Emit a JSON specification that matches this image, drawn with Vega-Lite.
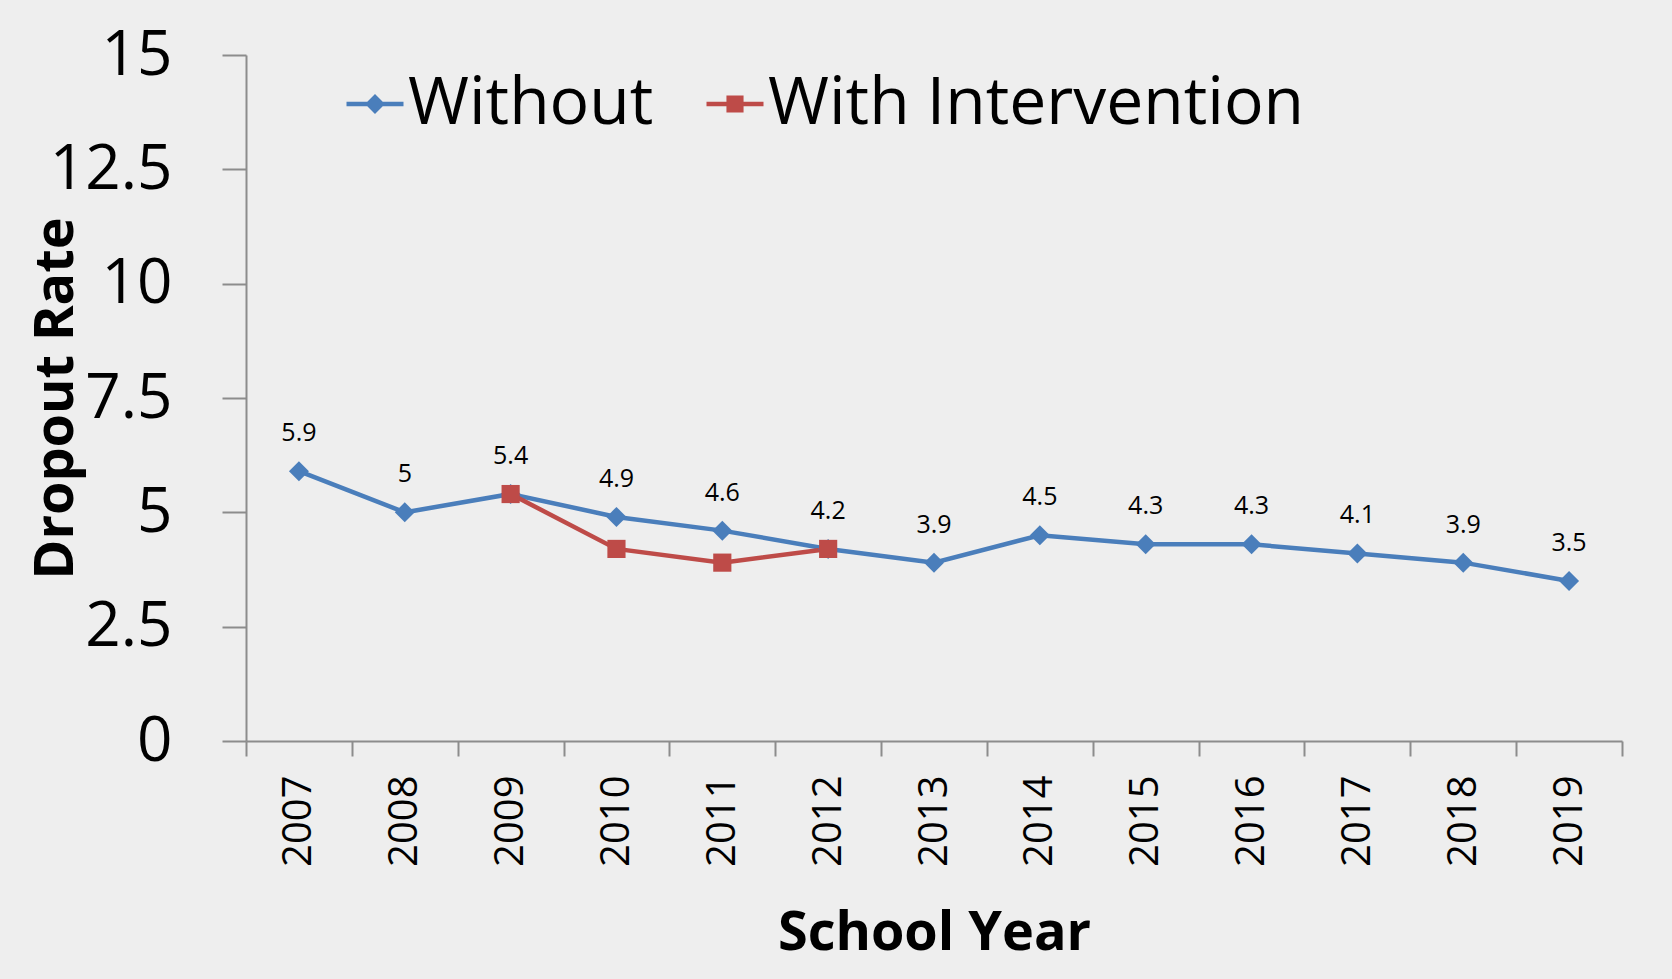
{
  "$schema": "https://vega.github.io/schema/vega-lite/v6.json",
  "autosize": {"type": "none"},
  "width": 1376,
  "height": 686,
  "padding": {"left": 246, "top": 55, "right": 50, "bottom": 238},
  "background": "#eeeeee",
  "config": {
    "view": {"stroke": null},
    "font": "Open Sans"
  },
  "data": {
    "values": [
      {"year": "2007", "series": "Without", "rate": 5.9},
      {"year": "2008", "series": "Without", "rate": 5.0},
      {"year": "2009", "series": "Without", "rate": 5.4},
      {"year": "2010", "series": "Without", "rate": 4.9},
      {"year": "2011", "series": "Without", "rate": 4.6},
      {"year": "2012", "series": "Without", "rate": 4.2},
      {"year": "2013", "series": "Without", "rate": 3.9},
      {"year": "2014", "series": "Without", "rate": 4.5},
      {"year": "2015", "series": "Without", "rate": 4.3},
      {"year": "2016", "series": "Without", "rate": 4.3},
      {"year": "2017", "series": "Without", "rate": 4.1},
      {"year": "2018", "series": "Without", "rate": 3.9},
      {"year": "2019", "series": "Without", "rate": 3.5},
      {"year": "2009", "series": "With Intervention", "rate": 5.4},
      {"year": "2010", "series": "With Intervention", "rate": 4.2},
      {"year": "2011", "series": "With Intervention", "rate": 3.9},
      {"year": "2012", "series": "With Intervention", "rate": 4.2}
    ]
  },
  "encoding": {
    "x": {
      "field": "year",
      "type": "ordinal",
      "bandPosition": 0.5,
      "scale": {"type": "band", "paddingInner": 0, "paddingOuter": 0,
        "domain": ["2007","2008","2009","2010","2011","2012","2013","2014","2015","2016","2017","2018","2019"]},
      "axis": {
        "title": "School Year",
        "titleFontSize": 54,
        "titleFontWeight": "bold",
        "titleColor": "#000000",
        "titleBaseline": "alphabetic",
        "titleY": 208,
        "titleX": 688,
        "titleAlign": "center",
        "labelAngle": -90,
        "labelFontSize": 40,
        "labelColor": "#000000",
        "labelPadding": 19,
        "tickBand": "extent",
        "tickSize": 15,
        "tickWidth": 2,
        "tickColor": "#8c8c8c",
        "domainColor": "#8c8c8c",
        "domainWidth": 2
      }
    },
    "y": {
      "field": "rate",
      "type": "quantitative",
      "scale": {"domain": [0, 15], "nice": false, "zero": true},
      "axis": {
        "title": "Dropout Rate",
        "titleFontSize": 54,
        "titleFontWeight": "bold",
        "titleColor": "#000000",
        "titleAngle": -90,
        "titleBaseline": "alphabetic",
        "titleAlign": "center",
        "titleX": -174,
        "titleY": 343,
        "values": [0, 2.5, 5, 7.5, 10, 12.5, 15],
        "format": ".1~f",
        "labelFontSize": 62,
        "labelColor": "#000000",
        "labelPadding": 50,
        "grid": false,
        "tickSize": 24,
        "tickWidth": 2,
        "tickColor": "#8c8c8c",
        "domainColor": "#8c8c8c",
        "domainWidth": 2
      }
    }
  },
  "layer": [
    {
      "mark": {"type": "line", "strokeWidth": 4.5},
      "encoding": {
        "color": {
          "field": "series",
          "type": "nominal",
          "scale": {"domain": ["Without", "With Intervention"], "range": ["#4a7ebb", "#be4b48"]},
          "legend": {
            "title": null,
            "orient": "none",
            "direction": "horizontal",
            "legendX": 96,
            "legendY": 16,
            "padding": 0,
            "labelFontSize": 66,
            "labelColor": "#000000",
            "labelLimit": 2000,
            "labelOffset": 0,
            "columnPadding": 48,
            "symbolSize": 3249,
            "symbolStrokeWidth": 0,
            "encode": {
              "symbols": {
                "update": {
                  "shape": {"signal": "datum.value === 'Without' ? 'M-1,-0.08H1V0.08H-1Z M-0.35,0L0,-0.35L0.35,0L0,0.35Z' : 'M-1,-0.08H1V0.08H-1Z M-0.3,-0.3H0.3V0.3H-0.3Z'"},
                  "fill": {"signal": "datum.value === 'Without' ? '#4a7ebb' : '#be4b48'"},
                  "fillOpacity": {"value": 1},
                  "size": {"value": 3249},
                  "strokeWidth": {"value": 0}
                }
              }
            }
          }
        }
      }
    },
    {
      "transform": [{"filter": "datum.series === 'Without'"}],
      "mark": {"type": "point", "filled": true, "opacity": 1, "shape": "diamond", "size": 400, "color": "#4a7ebb"}
    },
    {
      "transform": [{"filter": "datum.series === 'With Intervention'"}],
      "mark": {"type": "point", "filled": true, "opacity": 1, "shape": "square", "size": 330, "color": "#be4b48"}
    },
    {
      "transform": [{"filter": "datum.series === 'Without'"}],
      "mark": {"type": "text", "fontSize": 25, "dy": -38, "color": "#000000", "baseline": "middle"},
      "encoding": {
        "text": {"field": "rate", "type": "quantitative", "format": ".2~f"}
      }
    }
  ]
}
